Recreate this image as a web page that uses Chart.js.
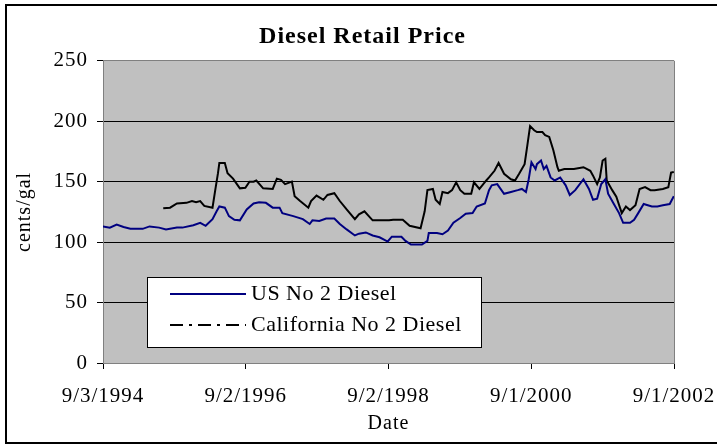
<!DOCTYPE html>
<html>
<head>
<meta charset="utf-8">
<script src="https://cdn.jsdelivr.net/npm/chart.js@4.4.1/dist/chart.umd.min.js"></script>
<style>
  html, body { margin: 0; padding: 0; background: #fff; }
  canvas { display: block; }
</style>
</head>
<body>
<canvas id="chart" width="717" height="445"></canvas>
<script>
// weeks counted from 9/3/1994, prices in cents/gal
const usWeeks = [
  0, 5, 10, 15, 20, 29, 34, 41, 46, 54,
  58, 66, 71, 75, 80, 83, 85, 89, 92, 96,
  100, 105, 110, 114, 119, 124, 129, 131, 139, 146,
  151, 153, 158, 163, 169, 173, 178, 184, 187, 192,
  197, 202, 208, 211, 218, 221, 225, 233, 237, 238,
  244, 248, 252, 256, 261, 265, 270, 273, 279, 282,
  284, 288, 293, 298, 303, 306, 309, 311, 313, 316,
  317, 320, 322, 324, 327, 330, 334, 338, 341, 345,
  351, 355, 358, 361, 364, 367, 369, 373, 377, 380,
  385, 388, 391, 395, 398, 401, 405, 409, 414, 417
];
const usCents = [
  113, 112, 114.5, 112.5, 111, 111, 113, 112, 110.5, 112,
  112, 114, 116, 113.5, 119, 125.5, 129.5, 128.5, 121.5, 118.5,
  118, 127, 132, 133, 132.5, 128.5, 128.5, 124, 121.5, 119,
  115, 118, 117.5, 119.5, 119.5, 115, 110.5, 105.5, 107, 108,
  105.5, 104, 100.5, 104.5, 104.5, 101, 98, 98, 101, 107.5,
  107.5, 106.5, 109.5, 116, 120, 123.5, 124, 129.5, 132, 143,
  147, 148, 140, 141.5, 143, 144, 141.5, 152, 166, 160.5,
  164.5, 167.5, 160.5, 163, 153.5, 151, 153.5, 147, 139, 143,
  152, 144, 135, 136, 148, 152, 140, 132, 124, 116,
  116, 118.5, 124, 131.5, 130.5, 129.5, 129.5, 130.5, 131.5, 138
];

const caWeeks = [
  44, 49, 54, 61, 65, 68, 71, 74, 80, 82,
  84, 85, 89, 91, 95, 100, 104, 107, 110, 112,
  117, 124, 127, 130, 133, 138, 140, 144, 150, 152,
  156, 161, 164, 169, 173, 178, 184, 187, 191, 195,
  197, 209, 212, 219, 224, 232, 235, 237, 241, 243,
  246, 248, 252, 255, 258, 261, 264, 269, 271, 275,
  280, 282, 286, 289, 293, 298, 301, 304, 308, 310,
  312, 315, 317, 321, 323, 326, 329, 332, 333, 337,
  344, 351, 356, 358, 361, 363, 365, 367, 368, 372,
  375, 379, 382, 385, 389, 392, 396, 400, 403, 409,
  413, 415, 417
];
const caCents = [
  128, 128.5, 132, 132.5, 134, 133, 134, 130, 128.5, 143,
  157, 165.5, 165.5, 157, 152.5, 144.5, 145, 150, 150, 151,
  144.5, 144, 152.5, 151.5, 148, 150, 138, 134, 128.5, 134,
  138.5, 135, 139, 140.5, 134, 127, 119, 123, 125.5, 120.5,
  118, 118, 118.5, 118.5, 113.5, 111.5, 125.5, 143, 144, 135,
  131.5, 141.5, 140.5, 143, 149.5, 143, 140, 140, 149.5, 144,
  151, 153.5, 159, 165.5, 156.5, 152, 151, 156.5, 164.5, 180,
  196, 192.5, 191, 191, 188.5, 187, 176, 162, 159, 160.5,
  160.5, 162, 159, 155, 148, 153.5, 167.5, 169, 151, 143,
  137.5, 124, 129.5, 126.5, 130.5, 144, 145.5, 143, 143, 144,
  145.5, 157.5, 158
];

const dateLabels = ['9/3/1994', '9/2/1996', '9/2/1998', '9/1/2000', '9/1/2002'];

const SERIF = '"Liberation Serif", "Times New Roman", serif';

function toPoints(weeks, cents) {
  return weeks.map((w, i) => ({ x: w * 7, y: cents[i] }));
}

// gray plot area, right frame edge, the boxed legend and the outer border
const excelLook = {
  id: 'excelLook',
  beforeDraw(chart) {
    const { ctx, chartArea: a } = chart;
    // title is drawn right after this, spaced out like the original
    ctx.letterSpacing = '1px';
    ctx.save();
    ctx.fillStyle = '#c0c0c0';
    ctx.fillRect(a.left, a.top, a.right - a.left, a.bottom - a.top);
    ctx.restore();
  },
  beforeDatasetsDraw(chart) {
    const { ctx, chartArea: a } = chart;
    const x = Math.round(a.right - 0.5) + 0.5;
    ctx.save();
    ctx.strokeStyle = '#808080';
    ctx.lineWidth = 1;
    ctx.beginPath();
    ctx.moveTo(x, a.top);
    ctx.lineTo(x, a.bottom);
    ctx.stroke();
    ctx.restore();
  },
  afterDatasetsDraw(chart) {
    // the axis text is drawn after this (ticks.z = 1)
    chart.ctx.letterSpacing = '1px';
  },
  afterDraw(chart) {
    const ctx = chart.ctx;
    ctx.save();
    ctx.fillStyle = '#fff';
    ctx.fillRect(147, 277, 334, 70);
    ctx.strokeStyle = '#000';
    ctx.lineWidth = 1;
    ctx.strokeRect(147.5, 277.5, 334, 70);

    const rows = [294, 325];
    chart.data.datasets.forEach((ds, i) => {
      const y = rows[i];
      ctx.beginPath();
      ctx.setLineDash(ds.legendDash || []);
      ctx.strokeStyle = ds.borderColor;
      ctx.lineWidth = 2;
      ctx.moveTo(170, y);
      ctx.lineTo(246, y);
      ctx.stroke();
      ctx.setLineDash([]);
      ctx.letterSpacing = '0.5px';
      ctx.fillStyle = '#000';
      ctx.font = '22px ' + SERIF;
      ctx.textBaseline = 'middle';
      ctx.textAlign = 'left';
      ctx.fillText(ds.label, 251, y);
    });

    ctx.letterSpacing = '0px';
    ctx.strokeStyle = '#000';
    ctx.lineWidth = 2;
    ctx.strokeRect(6, 5, 730, 438);
    ctx.restore();
    ctx.letterSpacing = '0px';
  }
};

new Chart(document.getElementById('chart'), {
  type: 'line',
  data: {
    datasets: [
      {
        label: 'US No 2 Diesel',
        data: toPoints(usWeeks, usCents),
        borderColor: '#000080',
        borderWidth: 2,
        pointRadius: 0,
        tension: 0,
        legendDash: []
      },
      {
        label: 'California No 2 Diesel',
        data: toPoints(caWeeks, caCents),
        borderColor: '#000000',
        borderWidth: 2,
        pointRadius: 0,
        tension: 0,
        legendDash: [13, 6, 3, 6]
      }
    ]
  },
  options: {
    responsive: false,
    animation: false,
    events: [],
    layout: { padding: { left: 8, top: 8, right: 0, bottom: 4 } },
    plugins: {
      legend: { display: false },
      tooltip: { enabled: false },
      title: {
        display: true,
        text: 'Diesel Retail Price',
        color: '#000',
        font: { family: SERIF, size: 24, weight: 'bold' },
        padding: { top: 14, bottom: 10 }
      }
    },
    scales: {
      x: {
        type: 'linear',
        min: 0,
        max: 2920,
        afterFit(scale) {
          scale.height = 78;
          scale.paddingRight = 43;
        },
        ticks: {
          stepSize: 730,
          z: 1,
          color: '#000',
          font: { family: SERIF, size: 21 },
          padding: 15,
          maxRotation: 0,
          autoSkip: false,
          callback: (v, i) => dateLabels[i]
        },
        grid: { drawOnChartArea: false, drawTicks: true, tickLength: 6, tickColor: '#000' },
        border: { color: '#808080' },
        title: {
          display: true,
          text: 'Date',
          color: '#000',
          font: { family: SERIF, size: 20 },
          padding: { top: 0, bottom: 5 }
        }
      },
      y: {
        min: 0,
        max: 250,
        afterFit(scale) {
          scale.width = 95;
        },
        ticks: {
          stepSize: 50,
          z: 1,
          color: '#000',
          font: { family: SERIF, size: 21 },
          padding: 9
        },
        grid: {
          color: (c) => (c.tick && (c.tick.value === 0 || c.tick.value === 250)) ? '#808080' : '#000',
          tickColor: '#000',
          tickLength: 6
        },
        border: { color: '#808080' },
        title: {
          display: true,
          text: 'cents/gal',
          color: '#000',
          font: { family: SERIF, size: 20 },
          padding: { top: 5, bottom: 0 }
        }
      }
    }
  },
  plugins: [excelLook]
});
</script>
</body>
</html>
